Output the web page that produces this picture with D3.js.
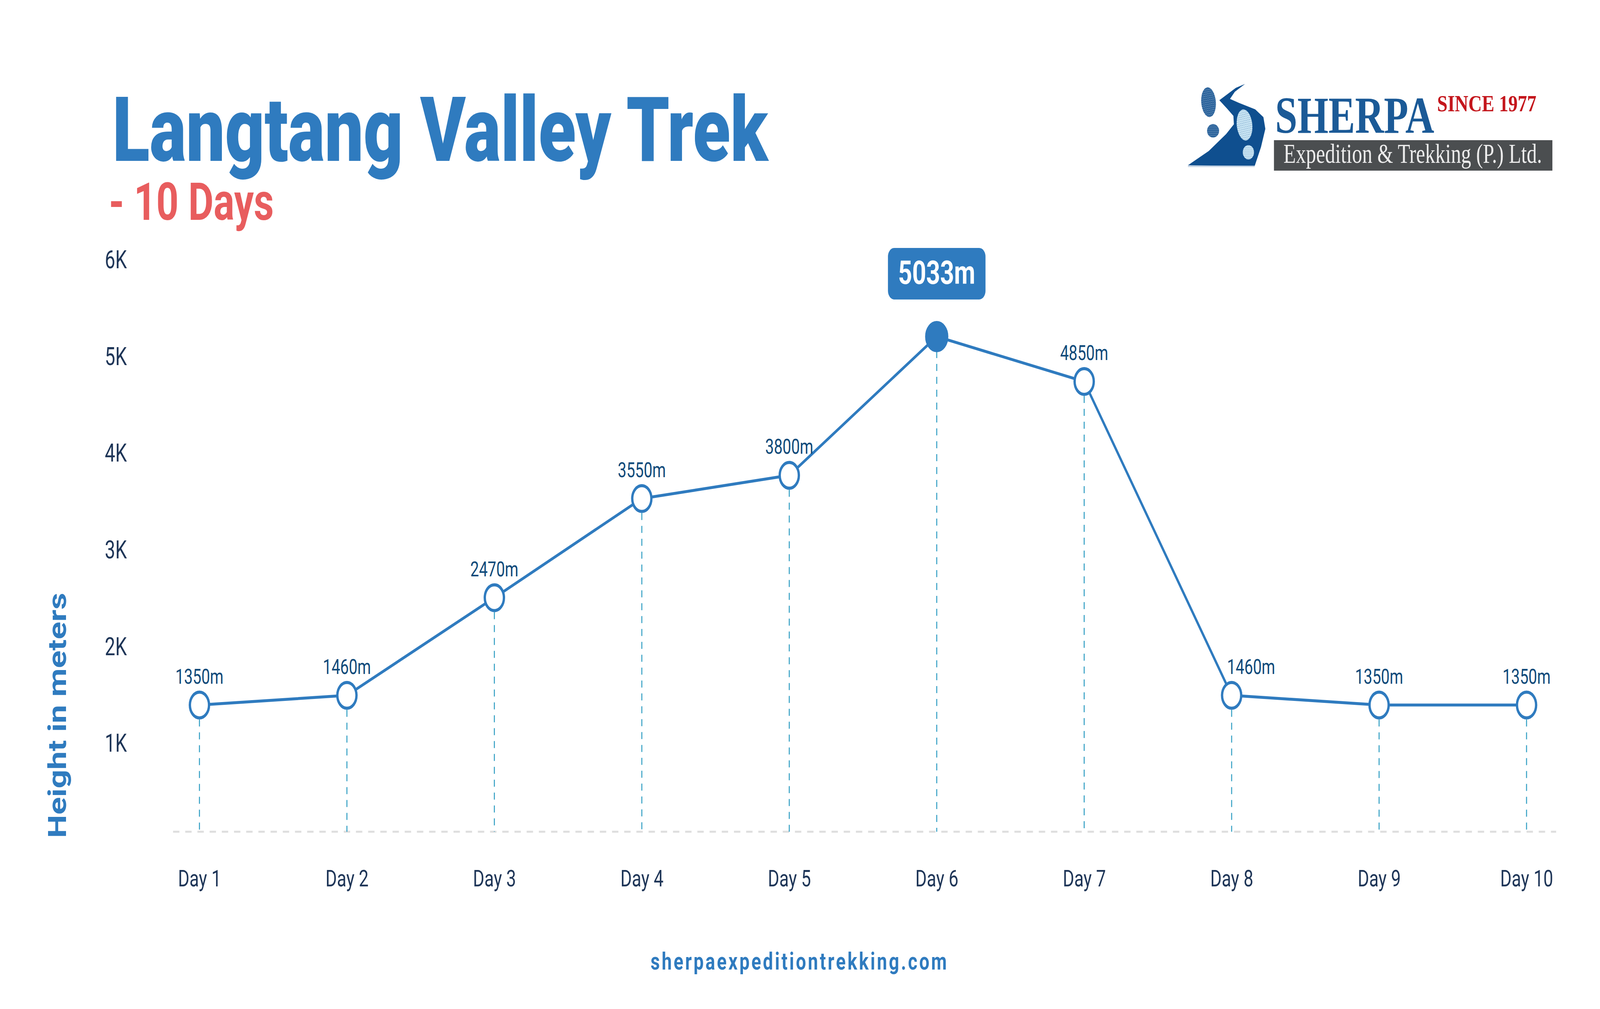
<!DOCTYPE html>
<html>
<head>
<meta charset="utf-8">
<script src="https://cdn.jsdelivr.net/npm/d3@7"></script>
<style>
  html, body { margin: 0; padding: 0; background: #fff; overflow: hidden; }
  svg { display: block; width: 100vw; height: 100vh; font-family: Roboto, "Noto Sans", sans-serif; }
</style>
</head>
<body>
<div id="chart"></div>
<script>
// chart data
var days = ["Day 1", "Day 2", "Day 3", "Day 4", "Day 5", "Day 6", "Day 7", "Day 8", "Day 9", "Day 10"];
var heights = [1310, 1410, 2420, 3445, 3685, 5120, 4655, 1410, 1310, 1310];   // plotted position
var heightLabels = ["1350m", "1460m", "2470m", "3550m", "3800m", "5033m", "4850m", "1460m", "1350m", "1350m"];
var yTicks = [1000, 2000, 3000, 4000, 5000, 6000];
var yTickLabels = ["1K", "2K", "3K", "4K", "5K", "6K"];

var width = 5511, height = 2584;
var blue = "#2f7bbf", navy = "#1f3658", labelBlue = "#0f4a7a";

//fill the whole window with the 5511x2584 drawing
var svg = d3.select("#chart").append("svg")
    .attr("viewBox", "0 0 " + width + " " + height)
    .attr("preserveAspectRatio", "none");

svg.append("rect").attr("width", width).attr("height", height).attr("fill", "#fff");

//scales
var x = d3.scalePoint().domain(days).range([687, 5258]);
var y = d3.scaleLinear().domain([0, 6000]).range([2130, 644]);

var points = heights.map((h, i) => ({ day: days[i], h: h, label: heightLabels[i], i: i }));
var peak = d3.maxIndex(heights);

//title
svg.append("text")
    .attr("x", 387).attr("y", 412)
    .attr("font-size", 230).attr("font-weight", 900)
    .attr("fill", blue)
    .attr("textLength", 2258).attr("lengthAdjust", "spacingAndGlyphs")
    .text("Langtang Valley Trek");

svg.append("text")
    .attr("x", 375).attr("y", 563)
    .attr("font-size", 134).attr("font-weight", 700)
    .attr("fill", "#e85d5e")
    .attr("textLength", 568).attr("lengthAdjust", "spacingAndGlyphs")
    .text("- 10 Days");

//y axis title
svg.append("text")
    .attr("transform", "translate(228,1832) rotate(-90)")
    .attr("text-anchor", "middle")
    .attr("font-size", 86).attr("font-weight", 700)
    .attr("fill", blue)
    .attr("textLength", 628).attr("lengthAdjust", "spacingAndGlyphs")
    .text("Height in meters");

//y axis
var yAxis = d3.axisLeft(y)
    .tickValues(yTicks)
    .tickFormat((d, i) => yTickLabels[i])
    .tickSize(0)
    .tickPadding(3);

var yg = svg.append("g")
    .attr("transform", "translate(440,0)")
    .call(yAxis);
yg.select(".domain").remove();
yg.selectAll("text")
    .attr("y", 22)
    .attr("font-size", 64)
    .attr("font-family", "Roboto")
    .attr("fill", navy);

//x axis
var xAxis = d3.axisBottom(x).tickSize(0).tickPadding(0);
var xg = svg.append("g")
    .attr("transform", "translate(0,2227)")
    .call(xAxis);
xg.select(".domain").remove();
xg.selectAll("text")
    .attr("font-size", 60)
    .attr("font-family", "Roboto")
    .attr("fill", navy);

//baseline
svg.append("line")
    .attr("x1", x.range()[0] - 91).attr("x2", x.range()[1] + 102)
    .attr("y1", y(0)).attr("y2", y(0))
    .attr("stroke", "#dedede")
    .attr("stroke-width", 5)
    .attr("stroke-dasharray", "22,20");

var r = 33;

//drop lines
svg.append("g").selectAll("line")
    .data(points)
    .enter().append("line")
    .attr("x1", d => x(d.day))
    .attr("x2", d => x(d.day))
    .attr("y1", d => y(d.h) + r + 4)
    .attr("y2", y(0))
    .attr("stroke", "#37a1c5")
    .attr("stroke-width", 3.5)
    .attr("stroke-dasharray", "18,15");

//line
var line = d3.line()
    .x(d => x(d.day))
    .y(d => y(d.h));

svg.append("path")
    .datum(points)
    .attr("d", line)
    .attr("fill", "none")
    .attr("stroke", blue)
    .attr("stroke-width", 7.5)
    .attr("stroke-linejoin", "round");

//points
svg.append("g").selectAll("circle")
    .data(points)
    .enter().append("circle")
    .attr("cx", d => x(d.day))
    .attr("cy", d => y(d.h))
    .attr("r", d => d.i === peak ? 37 : r)
    .attr("fill", d => d.i === peak ? blue : "#fff")
    .attr("stroke", blue)
    .attr("stroke-width", d => d.i === peak ? 6 : 8);

//value labels (day 8 label sits right of its point)
var nudge = { 7: 67 };
svg.append("g").selectAll("text")
    .data(points.filter(d => d.i !== peak))
    .enter().append("text")
    .attr("x", d => x(d.day) + (nudge[d.i] || 0))
    .attr("y", d => y(d.h) - 55)
    .attr("text-anchor", "middle")
    .attr("font-size", 53)
    .attr("fill", labelBlue)
    .text(d => d.label);

// peak label box
var px = x(days[peak]), py = y(heights[peak]);
svg.append("rect")
    .attr("x", px - 168).attr("y", py - 227)
    .attr("width", 336).attr("height", 132)
    .attr("rx", 22)
    .attr("fill", blue);
svg.append("text")
    .attr("x", px).attr("y", py - 135)
    .attr("text-anchor", "middle")
    .attr("font-size", 84).attr("font-weight", 700)
    .attr("fill", "#fff")
    .text(heightLabels[peak]);

//footer
svg.append("text")
    .attr("x", 2751).attr("y", 2483)
    .attr("text-anchor", "middle")
    .attr("font-size", 62).attr("font-weight", 700)
    .attr("fill", blue)
    .attr("textLength", 1020).attr("lengthAdjust", "spacing")
    .text("sherpaexpeditiontrekking.com");

//logo
var defs = svg.append("defs");
var p1 = defs.append("pattern").attr("id", "treadW")
    .attr("width", 16).attr("height", 16).attr("patternUnits", "userSpaceOnUse");
p1.append("rect").attr("width", 16).attr("height", 16).attr("fill", "#11508f");
p1.append("rect").attr("x", 2).attr("y", 3).attr("width", 7).attr("height", 4).attr("fill", "#eef3f8");
p1.append("rect").attr("x", 10).attr("y", 10).attr("width", 5).attr("height", 4).attr("fill", "#d3e0ee");
var p2 = defs.append("pattern").attr("id", "treadL")
    .attr("width", 16).attr("height", 16).attr("patternUnits", "userSpaceOnUse");
p2.append("rect").attr("width", 16).attr("height", 16).attr("fill", "#d4eef9");
p2.append("rect").attr("x", 2).attr("y", 3).attr("width", 7).attr("height", 4).attr("fill", "#3a6ea6");
p2.append("rect").attr("x", 10).attr("y", 10).attr("width", 5).attr("height", 4).attr("fill", "#7aa6cf");

var logo = svg.append("g").attr("transform", "translate(4080,190) scale(0.3333)");
logo.append("path")
    .attr("d", "M625,75 L530,105 L360,200 L440,265 L505,320 L510,385 L430,460 L250,590 L35,700 L725,705 L790,560 L835,420 L815,330 L730,270 L560,220 L470,190 L520,135 Z")
    .attr("fill", "#0f4f8f");
logo.append("line").attr("x1", 35).attr("x2", 725).attr("y1", 708).attr("y2", 708)
    .attr("stroke", "#c5d3e3").attr("stroke-width", 10);
// boot prints
logo.append("ellipse").attr("cx", 248).attr("cy", 215).attr("rx", 75).attr("ry", 115)
    .attr("transform", "rotate(-8,248,215)").attr("fill", "url(#treadW)");
logo.append("ellipse").attr("cx", 295).attr("cy", 435).attr("rx", 62).attr("ry", 52)
    .attr("fill", "url(#treadW)");
logo.append("ellipse").attr("cx", 620).attr("cy", 390).attr("rx", 80).attr("ry", 120)
    .attr("transform", "rotate(-10,620,390)").attr("fill", "url(#treadL)");
logo.append("ellipse").attr("cx", 660).attr("cy", 600).attr("rx", 58).attr("ry", 55)
    .attr("fill", "url(#treadL)");

svg.append("text")
    .attr("x", 4392).attr("y", 340)
    .attr("font-family", "'Liberation Serif', 'DejaVu Serif', serif")
    .attr("font-size", 133).attr("font-weight", 700)
    .attr("fill", "#1b5a97")
    .attr("textLength", 548).attr("lengthAdjust", "spacingAndGlyphs")
    .text("SHERPA");
svg.append("text")
    .attr("x", 4950).attr("y", 285)
    .attr("font-family", "'Liberation Serif', 'DejaVu Serif', serif")
    .attr("font-size", 60).attr("font-weight", 700)
    .attr("fill", "#c4161c")
    .attr("textLength", 342).attr("lengthAdjust", "spacingAndGlyphs")
    .text("SINCE 1977");
svg.append("rect")
    .attr("x", 4388).attr("y", 359)
    .attr("width", 959).attr("height", 78)
    .attr("fill", "#4b4e50");
svg.append("text")
    .attr("x", 4421).attr("y", 417)
    .attr("font-family", "'Liberation Serif', 'DejaVu Serif', serif")
    .attr("font-size", 70)
    .attr("fill", "#ececec")
    .attr("textLength", 890).attr("lengthAdjust", "spacingAndGlyphs")
    .text("Expedition & Trekking (P.) Ltd.");
</script>
</body>
</html>
